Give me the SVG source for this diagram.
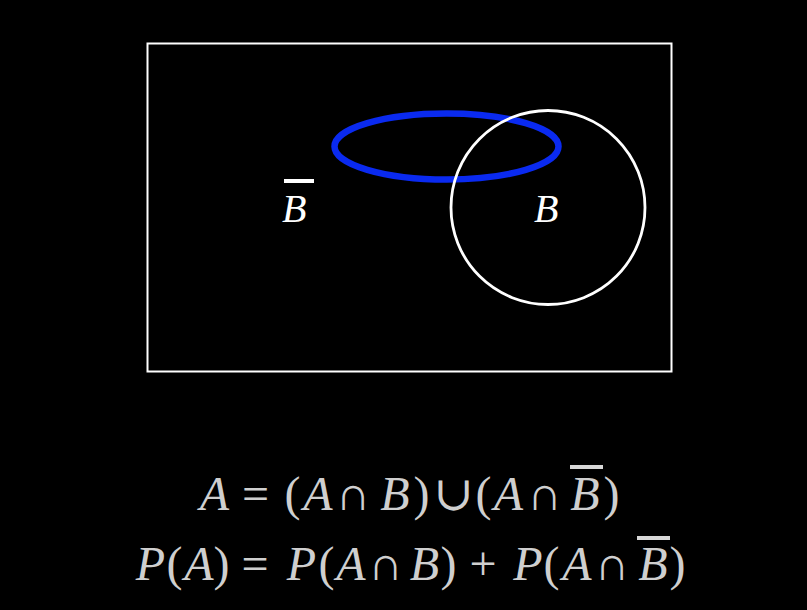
<svg xmlns="http://www.w3.org/2000/svg" width="807" height="610" viewBox="0 0 807 610">
<style>
.lbl{font-family:"Liberation Serif","DejaVu Serif",serif;font-style:italic;font-size:40px;fill:#ffffff}
.eq{font-family:"Liberation Serif","DejaVu Serif",serif;font-size:48px;fill:#cfcfcf;text-anchor:middle}
.it{font-style:italic}
.bar{fill:#ffffff}
.eqbar{fill:#d8d8d8}
</style>
<rect width="807" height="610" fill="#000"/>
<g id="universe"><rect x="147.5" y="43.5" width="524" height="328" fill="none" stroke="#fff" stroke-width="2"/></g>
<g id="A"><ellipse cx="446.5" cy="146.5" rx="112" ry="33" fill="none" stroke="#0a2af0" stroke-width="6.5"/></g>
<g id="B"><circle cx="548" cy="207.5" r="97" fill="none" stroke="#fff" stroke-width="2.8"/>
<text class="lbl" x="534" y="222">B</text></g>
<g id="Bbar"><text class="lbl" x="282" y="222">B</text><rect class="bar" x="284" y="179" width="30" height="4"/></g>
<g id="connectors"></g>
<g id="eq1">
<text class="eq" y="510"><tspan class="it" x="214.5">A</tspan><tspan x="255.5">=</tspan><tspan x="292.5">(</tspan><tspan class="it" x="318">A</tspan><tspan x="353">∩</tspan><tspan class="it" x="395">B</tspan><tspan x="421.5">)</tspan><tspan x="453.5">∪</tspan><tspan x="483.5">(</tspan><tspan class="it" x="508.5">A</tspan><tspan x="544.5">∩</tspan><tspan class="it" x="585">B</tspan><tspan x="611.5">)</tspan></text>
<rect class="eqbar" x="570" y="465" width="33" height="4"/>
</g>
<g id="eq2">
<text class="eq" y="580"><tspan class="it" x="150.5">P</tspan><tspan x="174.5">(</tspan><tspan class="it" x="199">A</tspan><tspan x="221.5">)</tspan><tspan x="255">=</tspan><tspan class="it" x="301.5">P</tspan><tspan x="326.5">(</tspan><tspan class="it" x="351">A</tspan><tspan x="385.5">∩</tspan><tspan class="it" x="424.5">B</tspan><tspan x="448.5">)</tspan><tspan x="483">+</tspan><tspan class="it" x="528">P</tspan><tspan x="551.5">(</tspan><tspan class="it" x="577">A</tspan><tspan x="612">∩</tspan><tspan class="it" x="653">B</tspan><tspan x="677.5">)</tspan></text>
<rect class="eqbar" x="637" y="536" width="33" height="4"/>
</g>
</svg>
